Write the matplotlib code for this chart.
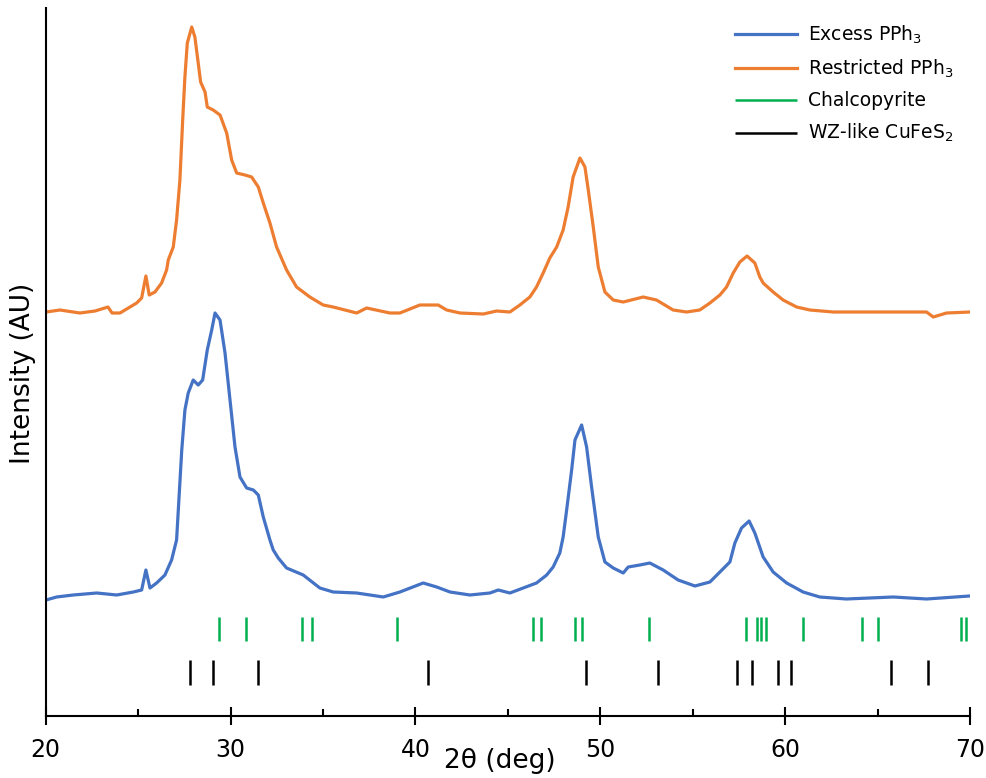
import matplotlib.pyplot as plt
from matplotlib.ticker import MultipleLocator

# XRD patterns, intensity in arbitrary units (traces are offset)
two_theta_restricted = [20.02, 20.77, 21.85, 22.67, 23.37, 23.59, 24.02, 24.92, 25.19, 25.42,
                        25.60, 25.91, 26.27, 26.54, 26.63, 26.90, 27.08, 27.26, 27.41, 27.53,
                        27.66, 27.90, 28.07, 28.25, 28.38, 28.62, 28.74, 29.06, 29.43, 29.79,
                        30.06, 30.33, 30.78, 31.14, 31.50, 31.77, 32.13, 32.49, 33.03, 33.57,
                        34.29, 35.01, 35.55, 36.82, 37.36, 38.62, 39.16, 40.24, 41.23, 41.69,
                        42.41, 43.67, 44.39, 45.11, 45.65, 46.19, 46.55, 46.91, 47.27, 47.64,
                        47.99, 48.26, 48.53, 48.90, 49.17, 49.35, 49.62, 49.89, 50.25, 50.70,
                        51.24, 52.32, 53.04, 53.94, 54.67, 55.38, 55.93, 56.47, 56.83, 57.19,
                        57.55, 57.94, 58.36, 58.63, 58.81, 59.35, 59.89, 60.62, 61.34, 62.60,
                        64.04, 65.84, 67.65, 68.01, 68.73, 69.99]
restricted = [404, 406, 403, 405, 409, 403, 403, 413, 418, 440,
              421, 424, 433, 446, 456, 469, 496, 536, 596, 639,
              673, 689, 679, 653, 634, 624, 609, 606, 601, 583,
              556, 543, 541, 539, 529, 513, 493, 469, 446, 429,
              419, 411, 409, 403, 408, 403, 403, 411, 411, 406,
              403, 402, 405, 404, 411, 419, 429, 443, 458, 469,
              486, 509, 539, 558, 549, 526, 489, 449, 424, 416,
              414, 419, 416, 406, 404, 406, 413, 421, 429, 443,
              454, 460, 453, 439, 433, 424, 416, 409, 406, 404,
              404, 404, 404, 399, 403, 404]

two_theta_excess = [20.02, 20.59, 21.49, 22.76, 23.84, 24.74, 25.19, 25.42, 25.64, 26.00,
                    26.45, 26.81, 27.08, 27.36, 27.53, 27.71, 27.98, 28.25, 28.49, 28.74,
                    28.98, 29.16, 29.43, 29.70, 29.97, 30.24, 30.51, 30.87, 31.23, 31.50,
                    31.77, 32.13, 32.31, 32.58, 33.03, 33.93, 34.83, 35.55, 36.82, 38.26,
                    39.16, 40.42, 41.15, 41.87, 42.95, 44.03, 44.48, 45.11, 45.83, 46.55,
                    47.10, 47.45, 47.81, 47.99, 48.18, 48.45, 48.63, 48.99, 49.26, 49.53,
                    49.89, 50.25, 50.70, 51.24, 51.51, 52.14, 52.68, 53.40, 54.21, 55.12,
                    55.93, 56.47, 57.01, 57.28, 57.64, 58.05, 58.36, 58.81, 59.35, 60.08,
                    60.97, 61.87, 63.31, 65.84, 67.65, 69.98]
excess = [116, 119, 121, 123, 121, 124, 126, 146, 128, 133,
          141, 156, 176, 266, 306, 323, 336, 331, 336, 366,
          386, 403, 396, 363, 316, 269, 239, 228, 226, 221,
          199, 176, 166, 158, 148, 141, 128, 124, 123, 119,
          124, 133, 129, 124, 121, 123, 126, 123, 128, 133,
          141, 149, 163, 179, 206, 246, 276, 291, 269, 229,
          179, 154, 148, 143, 149, 151, 153, 146, 136, 130,
          134, 144, 154, 173, 188, 195, 183, 159, 144, 133,
          124, 119, 117, 119, 117, 120]

# reference reflections
chalcopyrite = [29.38, 30.81, 33.89, 34.39, 39.01, 46.37, 46.79, 48.64, 49.0, 52.63,
                57.88, 58.49, 58.69, 58.96, 60.95, 64.14, 65.02, 69.5, 69.78]
wurtzite = [27.82, 29.06, 31.5, 40.69, 49.22, 53.1, 57.4, 58.18, 59.59, 60.29, 65.72, 67.7]

fig = plt.figure(figsize=(9.87, 7.78), dpi=100)
ax = fig.add_axes([0.0463, 0.0797, 0.9365, 0.91])

ax.plot(two_theta_excess, excess, color='#4472C4', lw=2.3, label='Excess PPh$_3$')
ax.plot(two_theta_restricted, restricted, color='#ED7D31', lw=2.3, label='Restricted PPh$_3$')
ax.vlines(chalcopyrite, 75, 99, color='#00B050', lw=1.8, label='Chalcopyrite')
ax.vlines(wurtzite, 31, 56, color='black', lw=1.8, label='WZ-like CuFeS$_2$')

ax.set_xlim(20, 70)
ax.set_ylim(0, 708)
ax.xaxis.set_major_locator(MultipleLocator(10))
ax.xaxis.set_minor_locator(MultipleLocator(5))
ax.tick_params(axis='x', which='major', direction='inout', length=13, width=1.5,
               labelsize=17, pad=9)
ax.tick_params(axis='x', which='minor', direction='in', length=5, width=1.5)
ax.set_yticks([])
for side in ['top', 'right']:
    ax.spines[side].set_visible(False)
for side in ['left', 'bottom']:
    ax.spines[side].set_linewidth(1.5)

ax.set_xlabel('2θ (deg)', fontsize=19)
ax.xaxis.set_label_coords(0.4915, -0.045)
ax.set_ylabel('Intensity (AU)', fontsize=19)
ax.yaxis.set_label_coords(-0.01, 0.484)

ax.legend(loc='upper left', bbox_to_anchor=(0.746, 0.978), frameon=False, fontsize=13.5,
          handlelength=3.3, handletextpad=0.6, labelspacing=0.62,
          borderpad=0, borderaxespad=0)

fig.savefig('out.png', dpi=100)
